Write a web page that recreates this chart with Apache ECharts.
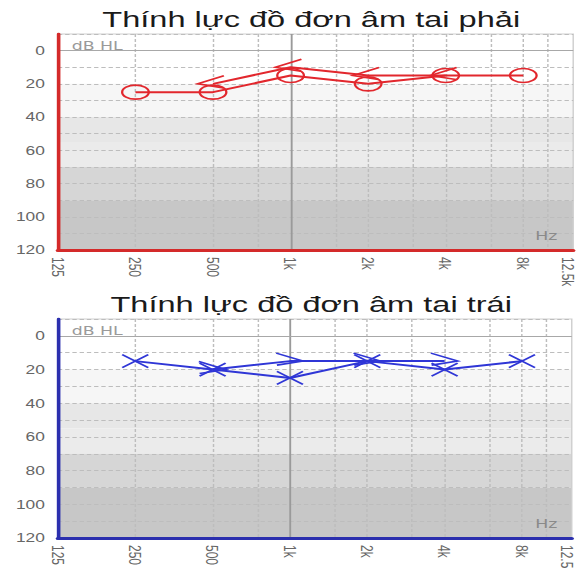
<!DOCTYPE html>
<html><head><meta charset="utf-8">
<script src="https://cdn.jsdelivr.net/npm/echarts@6/dist/echarts.min.js"></script>
<style>
html,body{margin:0;padding:0;background:#fff;overflow:hidden;width:579px;height:569px}
#c{width:400px;height:569px;transform:scaleX(1.4475);transform-origin:0 0}
</style></head><body><div id="c"></div>
<script>
// ---- data ----
const freqs = [250, 500, 1000, 2000, 4000, 8000];
const rightAir = [25, 25, 15, 20, 15, 15];
const rightBone = [null, 20, 10, 15, 15, null];
const leftAir = [15, 20, 25, 15, 20, 15];
const leftBone = [null, 20, 15, 15, 15, null];
const tickFreqs = [125, 250, 500, 1000, 2000, 4000, 8000, 12500];
const tickLabels = ['125', '250', '500', '1k', '2k', '4k', '8k', '12.5k'];
const midFreqs = [750, 1500, 3000, 6000, 10000];
const dbLabels = [0, 20, 40, 60, 80, 100, 120];
const bandLimits = [[20, 40], [40, 55], [55, 70], [70, 90], [90, 120]];
const titles = ['Thính lực đồ đơn âm tai phải', 'Thính lực đồ đơn âm tai trái'];

// ---- styling ----
const bandColors = ['#f6f6f6', '#e7e7e7', '#ebebeb', '#d6d6d6', '#c7c7c7'];
const FONT = 'Liberation Sans';
const oct = f => Math.log2(f / 125);
const grids = [
  {left: 40, right: 4, top: 34, height: 216},
  {left: 40, right: 5, top: 319, height: 219}
];
const axisColors = ['#d42a2a', '#2b2fae'];
const dataColors = ['#e2272d', '#2f36d6'];

const chart = echarts.init(document.getElementById('c'), null, {renderer: 'svg'});

const xAxis = [], yAxis = [], series = [];
grids.forEach((g, gi) => {
  xAxis.push({
    gridIndex: gi, type: 'value', min: 0, max: oct(12500), z: 5,
    axisLine: {show: true, onZero: false, lineStyle: {color: axisColors[gi], width: 3}},
    axisTick: {show: false},
    splitLine: {show: false},
    axisLabel: {
      customValues: tickFreqs.map(oct), rotate: -90, margin: 7, fontSize: 12,
      color: '#666', fontFamily: FONT,
      formatter: v => {
        const i = tickFreqs.findIndex(f => Math.abs(oct(f) - v) < 1e-6);
        if (i < 0) return '';
        return i === tickFreqs.length - 1 ? '{m|' + tickLabels[i] + '}' : tickLabels[i];
      },
      rich: {m: {fontSize: 12, color: '#666', fontFamily: FONT, padding: [6, 0, 0, 0]}}
    }
  });
  yAxis.push({
    gridIndex: gi, type: 'value', inverse: true, min: -10, max: 120, interval: 10, z: 5,
    axisLine: {show: true, onZero: false, lineStyle: {color: axisColors[gi], width: 2.5}},
    axisTick: {show: false},
    axisLabel: {fontSize: 12, color: '#666', fontFamily: FONT, margin: 9,
      formatter: v => dbLabels.includes(v) ? String(v) : ''},
    splitLine: {show: true, lineStyle: {color: '#bdbdbd', type: [3, 2], width: 1}}
  });
  // bands
  series.push({
    type: 'line', xAxisIndex: gi, yAxisIndex: gi, data: [], z: 1, silent: true,
    markArea: {silent: true, data: bandLimits.map((b, i) => [
      {yAxis: b[0], itemStyle: {color: bandColors[i]}}, {yAxis: b[1]}])}
  });
  // vertical grid + 0 dB line + 1k line
  const vLines = tickFreqs.slice(1, -1).filter(f => f !== 1000).concat(midFreqs)
    .map(f => ({xAxis: oct(f), lineStyle: {color: '#bdbdbd', type: [3, 2], width: 1}}));
  vLines.push({xAxis: oct(1000), lineStyle: {color: '#9a9a9a', type: 'solid', width: 1.3}});
  vLines.push({yAxis: 0, lineStyle: {color: '#a8a8a8', type: 'solid', width: 1}});
  series.push({
    type: 'line', xAxisIndex: gi, yAxisIndex: gi, data: [], z: 6, silent: true,
    markLine: {silent: true, symbol: 'none', label: {show: false}, animation: false, data: vLines}
  });
});

function pts(vals) {
  const d = [];
  freqs.forEach((f, i) => { if (vals[i] != null) d.push([oct(f), vals[i]]); });
  return d;
}
function lineSeries(gi, vals, color) {
  return {type: 'line', xAxisIndex: gi, yAxisIndex: gi, z: 8, silent: true, showSymbol: false,
    data: pts(vals), lineStyle: {color: color, width: 2}, itemStyle: {color: color}};
}
function markerSeries(gi, vals, kind, color) {
  return {
    type: 'custom', xAxisIndex: gi, yAxisIndex: gi, z: 9, silent: true,
    data: pts(vals), encode: {x: 0, y: 1},
    renderItem: (params, api) => {
      const p = api.coord([api.value(0), api.value(1)]);
      const st = {fill: 'none', stroke: color, lineWidth: 1.6};
      if (kind === 'O') return {type: 'ellipse', shape: {cx: p[0], cy: p[1], rx: 9.2, ry: 7}, style: st};
      if (kind === 'X') return {type: 'group', children: [
        {type: 'line', shape: {x1: p[0] - 9, y1: p[1] - 6.5, x2: p[0] + 9, y2: p[1] + 6.5}, style: st},
        {type: 'line', shape: {x1: p[0] + 9, y1: p[1] - 6.5, x2: p[0] - 9, y2: p[1] + 6.5}, style: st}]};
      if (kind === '<') return {type: 'polyline', shape: {points: [[p[0] + 7.5, p[1] - 8], [p[0] - 10.5, p[1]], [p[0] + 7, p[1] + 4]]}, style: st};
      return {type: 'polyline', shape: {points: [[p[0] - 9.5, p[1] - 8], [p[0] + 9, p[1]], [p[0] - 9, p[1] + 4]]}, style: st};
    }
  };
}
series.push(lineSeries(0, rightAir, dataColors[0]), lineSeries(0, rightBone, dataColors[0]),
  markerSeries(0, rightAir, 'O', dataColors[0]), markerSeries(0, rightBone, '<', dataColors[0]),
  lineSeries(1, leftAir, dataColors[1]), lineSeries(1, leftBone, dataColors[1]),
  markerSeries(1, leftAir, 'X', dataColors[1]), markerSeries(1, leftBone, '>', dataColors[1]));

const graphic = [];
grids.forEach((g, gi) => {
  graphic.push({type: 'text', x: 215, y: g.top - 15, z: 20,
    style: {text: titles[gi], fontSize: 22.5, fontFamily: FONT, fill: '#1a1a1a', align: 'center', verticalAlign: 'middle'}});
  graphic.push({type: 'text', x: 49.5, y: g.top + 11.5, z: 20,
    style: {text: 'dB HL', fontSize: 12, fontFamily: 'DejaVu Sans', fill: '#9a9a9a', align: 'left', verticalAlign: 'middle'}});
  graphic.push({type: 'text', x: 385, y: g.top + g.height - 14, z: 20,
    style: {text: 'Hz', fontSize: 12, fontFamily: 'DejaVu Sans', fill: '#8a8a8a', align: 'right', verticalAlign: 'middle'}});
});

chart.setOption({
  animation: false,
  backgroundColor: '#fff',
  grid: grids.map(g => Object.assign({show: true, z: 5, backgroundColor: 'transparent', borderColor: '#cfcfcf', borderWidth: 1, outerBoundsMode: 'none', containLabel: false}, g)),
  xAxis, yAxis, series, graphic
});
</script></body></html>
